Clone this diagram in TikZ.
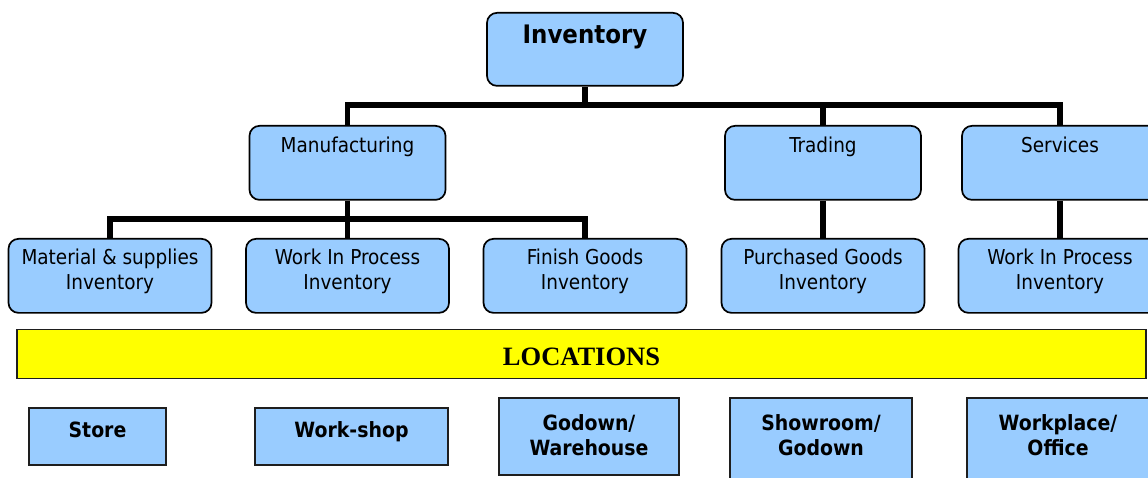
\documentclass[tikz,border=0pt]{standalone}
\usepackage{fontspec}
\setmainfont{DejaVu Sans Condensed}
\newfontfamily\locfont{Liberation Serif}
\usetikzlibrary{backgrounds}
\definecolor{boxblue}{RGB}{153,204,255}
\definecolor{baryellow}{RGB}{255,255,0}
\definecolor{bordergray}{RGB}{30,30,30}
\newcommand\twoln[2]{\begin{tabular}[t]{@{}c@{}}#1\\#2\end{tabular}}
\tikzset{
  rbox/.style={draw=black, line width=1.7pt, fill=boxblue, rounded corners=10pt,
    inner xsep=0pt, inner ysep=0pt, anchor=north, font=\fontsize{20.5}{25}\selectfont},
  topbox/.style={rbox, minimum width=196pt, text height=27pt, text depth=47pt},
  leafbox/.style={rbox, minimum width=203pt, text height=26pt, text depth=48pt},
  locbox/.style={draw=bordergray, line width=1.7pt, fill=boxblue, inner xsep=0pt,
    inner ysep=0pt, anchor=north, font=\fontsize{21}{25}\selectfont\bfseries},
  barbox/.style={draw=bordergray, line width=1.3pt, fill=baryellow, inner sep=0pt,
    anchor=north, font=\locfont\fontsize{26.5}{30}\selectfont\bfseries},
  conn/.style={line width=5.5pt, black}
}
\begin{document}
\begin{tikzpicture}[x=1pt,y=-1pt]
\useasboundingbox (0,0) rectangle (1148,478);
\clip (0,0) rectangle (1148,478);

\node[rbox, minimum width=196pt, text height=31pt, text depth=42pt,
  font=\fontsize{25.5}{30}\selectfont\bfseries] (inv) at (585,12) {Inventory};

\node[topbox] (man)  at (347.5,125) {Manufacturing};
\node[topbox] (trad) at (823,125) {Trading};
\node[topbox] (serv) at (1060,125) {Services};

\node[leafbox] (mat)  at (110,238)  {\twoln{Material \& supplies}{Inventory}};
\node[leafbox] (wip)  at (347.5,238)  {\twoln{Work In Process}{Inventory}};
\node[leafbox] (fin)  at (585,238)  {\twoln{Finish Goods}{Inventory}};
\node[leafbox] (pur)  at (823,238)  {\twoln{Purchased Goods}{Inventory}};
\node[leafbox] (wip2) at (1060,238) {\twoln{Work In Process}{Inventory}};

\node[barbox, minimum width=1129pt, text height=36pt, text depth=13pt] (loc) at (581.5,329) {LOCATIONS};

\node[locbox, minimum width=137pt, text height=30pt, text depth=27pt] (store) at (97.5,407) {Store};
\node[locbox, minimum width=193pt, text height=30pt, text depth=27pt] (shop) at (351.5,407) {Work-shop};
\node[locbox, minimum width=180pt, text height=33pt, text depth=44pt] (godown) at (589,397) {\twoln{Godown/}{Warehouse}};
\node[locbox, minimum width=182pt, text height=33pt, text depth=80pt] (show) at (821,397) {\twoln{Showroom/}{Godown}};
\node[locbox, minimum width=182pt, text height=33pt, text depth=80pt] (work) at (1058,397) {\twoln{Workplace/}{Office}};

\begin{scope}[on background layer]
  \coordinate (b1) at (585,105);
  \coordinate (b2) at (347.5,219);
  \draw[conn] (inv.south) -- (b1);
  \draw[conn] (man.north) -- (man.north |- b1) -- (serv.north |- b1) -- (serv.north);
  \draw[conn] (trad.north) -- (trad.north |- b1);
  \draw[conn] (man.south) -- (b2);
  \draw[conn] (mat.north) -- (mat.north |- b2) -- (fin.north |- b2) -- (fin.north);
  \draw[conn] (wip.north) -- (wip.north |- b2);
  \draw[conn] (trad.south) -- (pur.north);
  \draw[conn] (serv.south) -- (wip2.north);
\end{scope}
\end{tikzpicture}
\end{document}
